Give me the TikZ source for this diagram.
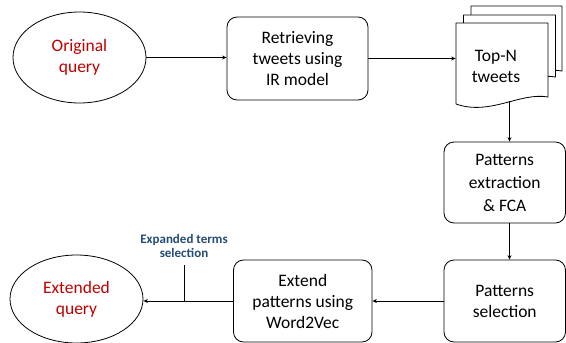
\documentclass[tikz,border=0pt]{standalone}
\usepackage{fontspec}
\setmainfont{Carlito}
\usetikzlibrary{shapes.geometric,arrows.meta}
\definecolor{qred}{RGB}{192,0,0}
\definecolor{lblue}{RGB}{36,76,118}
\begin{document}
\begin{tikzpicture}[x=1pt,y=-1pt,
  line width=0.8pt,
  mainfont/.style={font=\fontsize{17.5}{21}\selectfont},
  qnode/.style={ellipse, draw, inner sep=0pt, mainfont, align=center, text=qred, minimum width=133pt},
  pbox/.style={rectangle, rounded corners=10pt, draw, inner sep=0pt, mainfont, align=center},
  conn/.style={-{Stealth[length=4.5pt,width=4pt]}},
  docshape/.style={draw, fill=white, line join=round},
  lbl/.style={font=\bfseries\fontsize{13}{14.5}\selectfont, text=lblue, align=center}
]
\useasboundingbox (0,0) rectangle (566,343);

% stacked documents (back to front)
\filldraw[docshape] (471,6) -- (562,6) -- (562,71) .. controls (534,66) and (504,90) .. (471,78) -- cycle;
\filldraw[docshape] (463.5,15) -- (555.5,15) -- (555.5,77) .. controls (527.5,72) and (497.5,96) .. (463.5,84) -- cycle;
\filldraw[docshape] (456,23) -- (548,23) -- (548,97) .. controls (520,92) and (490,116) .. (456,104) -- cycle;

\node[minimum width=92pt, minimum height=82pt, inner sep=0pt] (doc) at (502,64) {};
\node[mainfont, align=center] (doctxt) at (496,66) {Top-N\\tweets};
\coordinate (docb) at (509.5,101);

\node[qnode, minimum height=91pt] (oq) at (79.5,57.5) {Original\\query};
\node[pbox, minimum width=141pt, minimum height=83pt] (ret) at (297.5,58.5) {Retrieving\\tweets using\\IR model};
\node[pbox, minimum width=121.5pt, minimum height=81pt, font=\fontsize{17.5}{23}\selectfont] (pe) at (504.75,182.5) {Patterns\\extraction\\\& FCA};
\node[pbox, minimum width=121.5pt, minimum height=82pt] (ps) at (504.75,301) {Patterns\\selection};
\node[pbox, minimum width=138.5pt, minimum height=82pt] (ext) at (302.75,301) {Extend\\patterns using\\Word2Vec};
\node[qnode, minimum height=88pt] (eq) at (76.5,299) {Extended\\query};

\node[lbl] (lb) at (184,246) {Expanded terms\\selection};
\coordinate (brt) at (184,265);
\coordinate (brb) at (184,301);

\draw[conn] (oq.east) -- (oq.east -| ret.west);
\draw[conn] (ret.east) -- (ret.east -| doc.west);
\draw[conn] (docb) -- (docb |- pe.north);
\draw[conn] (pe.south -| docb) -- (ps.north -| docb);
\draw[conn] (ps.west) -- (ps.west -| ext.east);
\draw[conn] (ext.west) -- (ext.west -| eq.east);
\draw (brb) -- (brt);
\end{tikzpicture}
\end{document}
